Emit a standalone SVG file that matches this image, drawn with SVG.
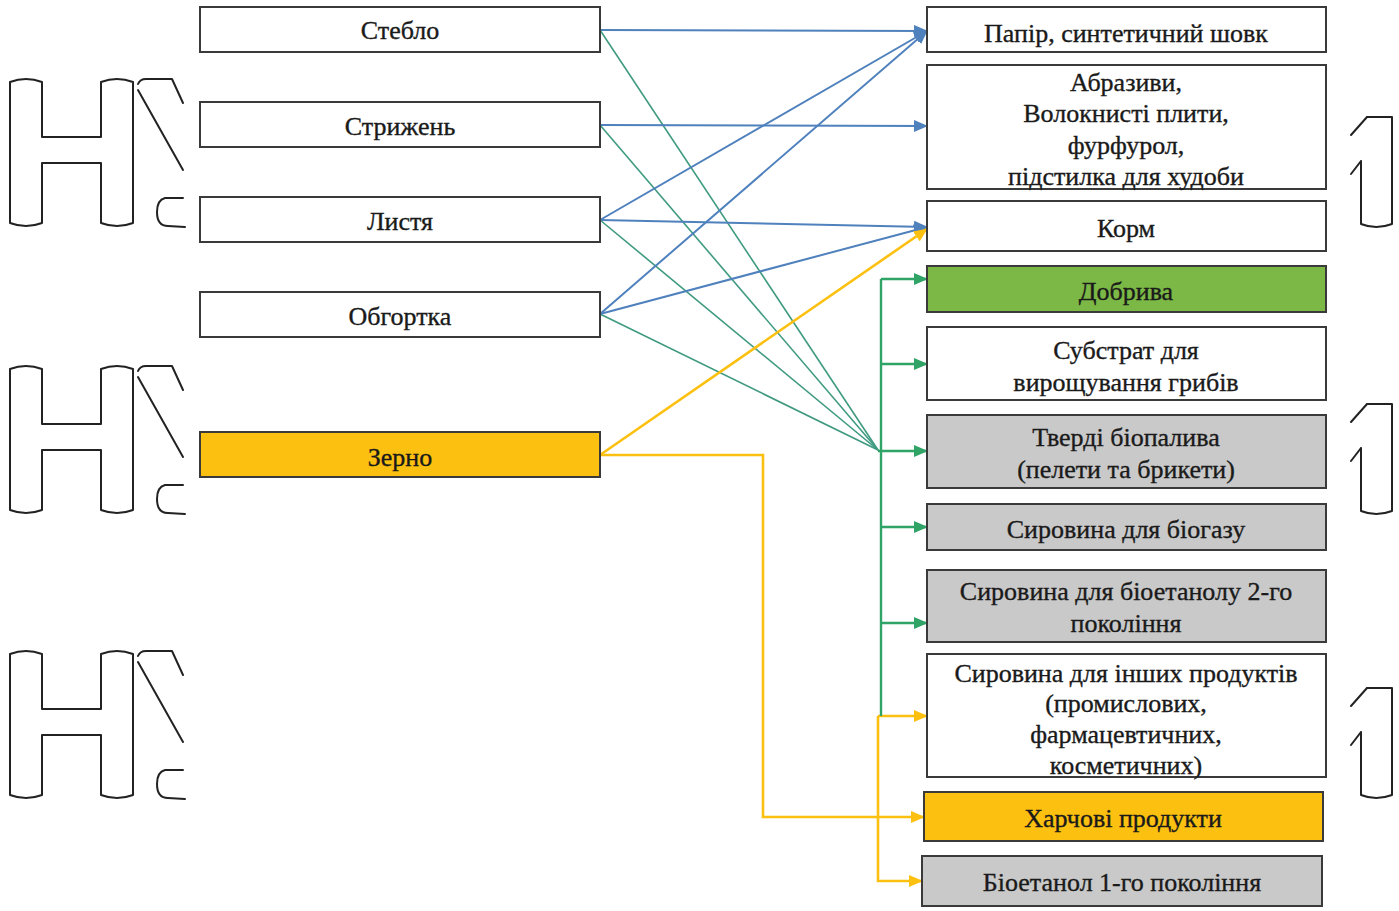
<svg xmlns="http://www.w3.org/2000/svg" width="1399" height="911" viewBox="0 0 1399 911">
<style>
.box{stroke:#3a3a3a;stroke-width:2}
.w{fill:#ffffff}
.g{fill:#c9c9c9}
.o{fill:#fcc010}
.gr{fill:#7cb845}
.t{font-family:"Liberation Serif","Times New Roman",serif;font-size:26px;fill:#1a1a1a;stroke:#1a1a1a;stroke-width:0.35;text-anchor:middle}
.blue{stroke:#4f81bd;stroke-width:2;fill:none}
.teal{stroke:#3f9a80;stroke-width:1.6;fill:none}
.green{stroke:#2fa466;stroke-width:2.4;fill:none}
.yel{stroke:#fcc010;stroke-width:2.6;fill:none}
.dec{fill:none;stroke:#222;stroke-width:2;stroke-linejoin:round;stroke-linecap:round}
</style>
<defs>
<marker id="ab" markerWidth="14" markerHeight="12" refX="13" refY="6" orient="auto" markerUnits="userSpaceOnUse"><path d="M0,0 L14,6 L0,12 Z" fill="#4f81bd"/></marker>
<marker id="ag" markerWidth="14" markerHeight="12" refX="13" refY="6" orient="auto" markerUnits="userSpaceOnUse"><path d="M0,0 L14,6 L0,12 Z" fill="#2fa466"/></marker>
<marker id="ay" markerWidth="14" markerHeight="12" refX="13" refY="6" orient="auto" markerUnits="userSpaceOnUse"><path d="M0,0 L14,6 L0,12 Z" fill="#fcc010"/></marker>
<g id="hshape">
<path class="dec" d="M10,82 Q26,76 42,82 L42,137 L101,137 L101,82 Q117,76 133,82 L133,223 Q117,229 101,223 L101,163 L42,163 L42,223 Q26,229 10,223 Z"/>
<path class="dec" d="M138,84 Q140,79 146,79 L172,79 L183,103 M138,90 L183,170 M165,198 L183,198 M165,198 Q157,200 157,212 Q157,226 168,226 L185,227"/>
</g>
<g id="oneshape">
<path class="dec" d="M1367,117 L1392,117 L1392,224 Q1376,230 1361,224 L1361,161 M1351,135 L1367,117 M1351,174 L1361,161"/>
</g>
</defs>

<g id="decor">
<use href="#hshape"/>
<use href="#hshape" transform="translate(0,287)"/>
<use href="#hshape" transform="translate(0,572)"/>
<use href="#oneshape"/>
<use href="#oneshape" transform="translate(0,287)"/>
<use href="#oneshape" transform="translate(0,571)"/>
</g>

<g id="connectors">
<line class="teal" x1="600" y1="30" x2="878" y2="450"/>
<line class="teal" x1="600" y1="125" x2="878" y2="450"/>
<line class="teal" x1="600" y1="220" x2="878" y2="450"/>
<line class="teal" x1="600" y1="314" x2="878" y2="450"/>
<line class="blue" x1="600" y1="30" x2="927" y2="31" marker-end="url(#ab)"/>
<line class="blue" x1="600" y1="125" x2="927" y2="126" marker-end="url(#ab)"/>
<line class="blue" x1="600" y1="220" x2="927" y2="31" marker-end="url(#ab)"/>
<line class="blue" x1="600" y1="220" x2="927" y2="227" marker-end="url(#ab)"/>
<line class="blue" x1="600" y1="314" x2="927" y2="31" marker-end="url(#ab)"/>
<line class="blue" x1="600" y1="314" x2="927" y2="227" marker-end="url(#ab)"/>
<line class="yel" x1="600" y1="455" x2="927" y2="229" marker-end="url(#ay)"/>
<polyline class="yel" points="600,455 763,455 763,817 924,817" marker-end="url(#ay)"/>
<polyline class="yel" points="878,716 878,881 922,881" marker-end="url(#ay)"/>
<line class="yel" x1="878" y1="716" x2="927" y2="716" marker-end="url(#ay)"/>
<line class="green" x1="881" y1="279" x2="881" y2="716"/>
<line class="green" x1="881" y1="279" x2="927" y2="279" marker-end="url(#ag)"/>
<line class="green" x1="881" y1="364" x2="927" y2="364" marker-end="url(#ag)"/>
<line class="green" x1="878" y1="451" x2="927" y2="451" marker-end="url(#ag)"/>
<line class="green" x1="881" y1="527" x2="927" y2="527" marker-end="url(#ag)"/>
<line class="green" x1="881" y1="623" x2="927" y2="623" marker-end="url(#ag)"/>
</g>

<g id="n-stebla"><rect class="box w" x="200" y="7" width="400" height="45"/><text class="t" x="400" y="39">Стебло</text></g>
<g id="n-stryzhen"><rect class="box w" x="200" y="102" width="400" height="45"/><text class="t" x="400" y="135">Стрижень</text></g>
<g id="n-lystia"><rect class="box w" x="200" y="197" width="400" height="45"/><text class="t" x="400" y="230">Листя</text></g>
<g id="n-obhortka"><rect class="box w" x="200" y="292" width="400" height="45"/><text class="t" x="400" y="325">Обгортка</text></g>
<g id="n-zerno"><rect class="box o" x="200" y="432" width="400" height="45"/><text class="t" x="400" y="466">Зерно</text></g>

<g id="n-papir"><rect class="box w" x="927" y="7" width="399" height="45"/><text class="t" x="1126" y="42">Папір, синтетичний шовк</text></g>
<g id="n-abrazyvy"><rect class="box w" x="927" y="65" width="399" height="124"/><text class="t" x="1126" y="91">Абразиви,</text><text class="t" x="1126" y="122">Волокнисті плити,</text><text class="t" x="1126" y="154">фурфурол,</text><text class="t" x="1126" y="185">підстилка для худоби</text></g>
<g id="n-korm"><rect class="box w" x="927" y="201" width="399" height="50"/><text class="t" x="1126" y="237">Корм</text></g>
<g id="n-dobryva"><rect class="box gr" x="927" y="266" width="399" height="46"/><text class="t" x="1126" y="300">Добрива</text></g>
<g id="n-substrat"><rect class="box w" x="927" y="327" width="399" height="73"/><text class="t" x="1126" y="359">Субстрат для</text><text class="t" x="1126" y="391">вирощування грибів</text></g>
<g id="n-tverdi"><rect class="box g" x="927" y="415" width="399" height="73"/><text class="t" x="1126" y="446">Тверді біопалива</text><text class="t" x="1126" y="478">(пелети та брикети)</text></g>
<g id="n-biohaz"><rect class="box g" x="927" y="504" width="399" height="46"/><text class="t" x="1126" y="538">Сировина для біогазу</text></g>
<g id="n-bioetanol2"><rect class="box g" x="927" y="570" width="399" height="72"/><text class="t" x="1126" y="600">Сировина для біоетанолу 2-го</text><text class="t" x="1126" y="632">покоління</text></g>
<g id="n-inshi"><rect class="box w" x="927" y="654" width="399" height="123"/><text class="t" x="1126" y="682">Сировина для інших продуктів</text><text class="t" x="1126" y="712">(промислових,</text><text class="t" x="1126" y="743">фармацевтичних,</text><text class="t" x="1126" y="774">косметичних)</text></g>
<g id="n-kharchovi"><rect class="box o" x="924" y="792" width="399" height="49"/><text class="t" x="1123" y="827">Харчові продукти</text></g>
<g id="n-bioetanol1"><rect class="box g" x="922" y="856" width="400" height="50"/><text class="t" x="1122" y="891">Біоетанол 1-го покоління</text></g>
</svg>
